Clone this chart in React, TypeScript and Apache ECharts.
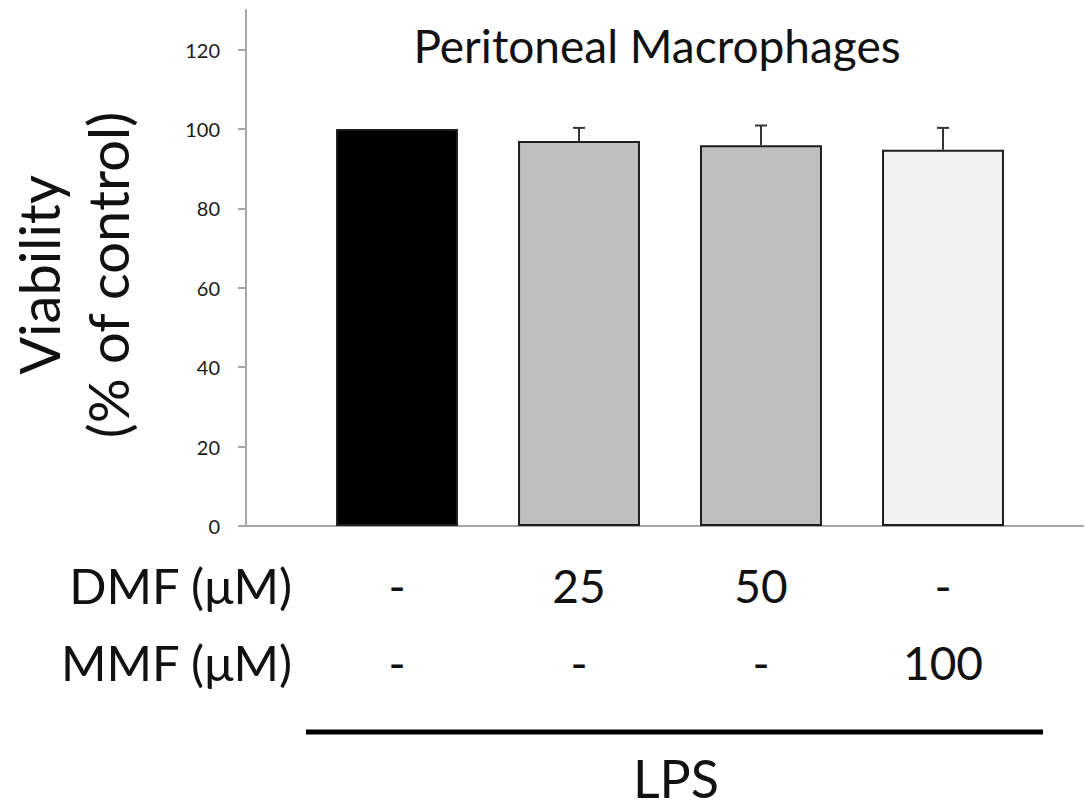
import React, { useEffect, useRef } from "react";
import * as echarts from "echarts";

const categories = ["LPS", "LPS+DMF25", "LPS+DMF50", "LPS+MMF100"];
const viability = [100, 97.0, 95.9, 94.8];
const sdUpper = [0, 3.3, 5.0, 5.5];
const barColors = ["#000000", "#bfbfbf", "#bfbfbf", "#f2f2f2"];
const dmfRow = ["-", "25", "50", "-"];
const mmfRow = ["-", "-", "-", "100"];
const rowLabels = ["DMF (\u03bcM)", "MMF (\u03bcM)"];
const yTicks = [0, 20, 40, 60, 80, 100, 120];
const FONT = "Lato";

export default function App() {
  const ref = useRef<HTMLDivElement>(null);
  useEffect(() => {
    if (!ref.current) return;
    const chart = echarts.init(ref.current, null, { renderer: "svg" });
    const axisGray = "#a6a6a6";
    chart.setOption({
      animation: false,
      backgroundColor: "#ffffff",
      textStyle: { fontFamily: FONT },
      grid: [
        { left: 246, right: 3, top: 10, bottom: 282 },
        { left: 306, width: 728, top: 10, bottom: 282 },
      ],
      xAxis: [
        {
          gridIndex: 0,
          type: "value",
          min: 0,
          max: 1,
          axisLine: { show: true, lineStyle: { color: axisGray, width: 2 } },
          axisTick: { show: false },
          axisLabel: { show: false },
          splitLine: { show: false },
        },
        {
          gridIndex: 1,
          type: "category",
          data: categories,
          axisLine: { show: false },
          axisTick: { show: false },
          axisLabel: {
            show: true,
            margin: 21,
            fontFamily: FONT,
            fontSize: 46,
            lineHeight: 77,
            color: "#111",
            formatter: (_v: string, i: number) => dmfRow[i] + "\n" + mmfRow[i],
          },
        },
      ],
      yAxis: [
        {
          gridIndex: 0,
          type: "value",
          min: 0,
          max: 130,
          axisLine: { show: true, lineStyle: { color: axisGray, width: 2 } },
          axisTick: {
            show: true,
            length: 8,
            customValues: yTicks,
            lineStyle: { color: axisGray, width: 2 },
          },
          axisLabel: {
            customValues: yTicks,
            margin: 26,
            fontFamily: FONT,
            fontSize: 20,
            color: "#1a1a1a",
          },
          splitLine: { show: false },
        },
        {
          gridIndex: 1,
          type: "value",
          min: 0,
          max: 130,
          show: false,
        },
      ],
      series: [
        {
          type: "bar",
          xAxisIndex: 1,
          yAxisIndex: 1,
          barWidth: "67%",
          data: viability.map((v, i) => ({
            value: v,
            itemStyle: { color: barColors[i], borderColor: "#1e1e1e", borderWidth: 2 },
          })),
          z: 2,
        },
        {
          type: "custom",
          xAxisIndex: 1,
          yAxisIndex: 1,
          z: 3,
          data: viability.map((v, i) => [i, v, sdUpper[i]]),
          renderItem: (params: any, api: any) => {
            const idx = api.value(0);
            const v = api.value(1);
            const e = api.value(2);
            if (!e) return { type: "group", children: [] };
            const base = api.coord([idx, v]);
            const top = api.coord([idx, v + e]);
            const hw = 6;
            const st = { stroke: "#333333", lineWidth: 2 };
            return {
              type: "group",
              children: [
                { type: "line", shape: { x1: base[0], y1: base[1], x2: top[0], y2: top[1] }, style: st },
                { type: "line", shape: { x1: top[0] - hw, y1: top[1], x2: top[0] + hw, y2: top[1] }, style: st },
              ],
            };
          },
        },
      ],
      graphic: [
        {
          type: "text",
          style: {
            text: "Peritoneal Macrophages",
            fontFamily: FONT,
            fontSize: 46,
            fill: "#111",
            x: 657,
            y: 45,
            align: "center",
            verticalAlign: "middle",
          },
        },
        {
          type: "text",
          x: 73,
          y: 275,
          rotation: Math.PI / 2,
          style: {
            text: "Viability\n(% of control)",
            fontFamily: FONT,
            fontSize: 56,
            lineHeight: 69,
            fill: "#111",
            align: "center",
            verticalAlign: "middle",
          },
        },
        {
          type: "text",
          style: {
            text: rowLabels[0],
            x: 292,
            y: 585,
            fontFamily: FONT,
            fontSize: 49,
            fill: "#111",
            align: "right",
            verticalAlign: "middle",
          },
        },
        {
          type: "text",
          style: {
            text: rowLabels[1],
            x: 292,
            y: 662,
            fontFamily: FONT,
            fontSize: 49,
            fill: "#111",
            align: "right",
            verticalAlign: "middle",
          },
        },
        {
          type: "line",
          shape: { x1: 306, y1: 732, x2: 1043, y2: 732 },
          style: { stroke: "#000", lineWidth: 5 },
        },
        {
          type: "text",
          style: {
            text: "LPS",
            x: 676,
            y: 778,
            fontFamily: FONT,
            fontSize: 52,
            lineHeight: 40,
            fill: "#111",
            align: "center",
            verticalAlign: "middle",
          },
        },
      ],
    });
    return () => chart.dispose();
  }, []);
  return (
    <div
      ref={ref}
      style={{ position: "fixed", left: 0, top: 0, width: 1086, height: 808, background: "#fff" }}
    />
  );
}
